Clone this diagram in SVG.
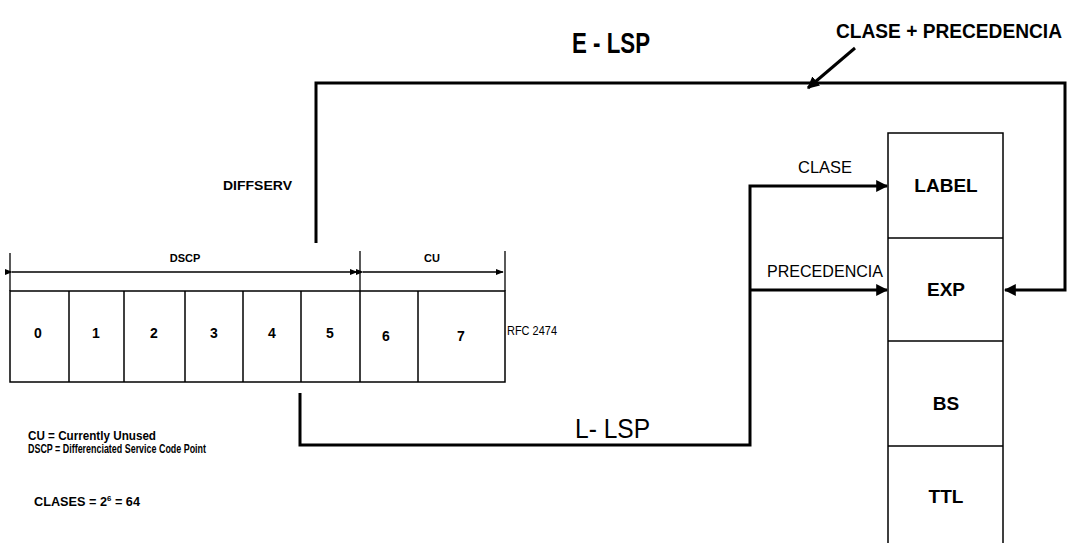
<svg xmlns="http://www.w3.org/2000/svg" width="1072" height="543" viewBox="0 0 1072 543">
<style>
text{font-family:"Liberation Sans",Arial,sans-serif;fill:#000}
.b{font-weight:bold}
.cell{fill:none;stroke:#000;stroke-width:1.5}
.ln{fill:none;stroke:#000;stroke-width:3}
.thin{fill:none;stroke:#000;stroke-width:1.3}
.mid{text-anchor:middle}
</style>
<defs>
<marker id="ah" viewBox="0 0 10 10" refX="9" refY="5" markerWidth="4" markerHeight="4" orient="auto" markerUnits="strokeWidth"><path d="M0,0L10,5L0,10z" fill="#000"/></marker>
<marker id="sm" viewBox="0 0 10 10" refX="9" refY="5" markerWidth="6" markerHeight="6" orient="auto" markerUnits="strokeWidth"><path d="M0,1L10,5L0,9z" fill="#000"/></marker>
</defs>
<g id="dscp-table">
<line class="thin" x1="10" y1="253" x2="10" y2="291"/>
<line class="thin" x1="360" y1="251" x2="360" y2="291"/>
<line class="thin" x1="505" y1="251" x2="505" y2="291"/>
<line class="thin" x1="12" y1="272" x2="357" y2="272" marker-start="url(#sm)" marker-end="url(#sm)"/>
<line class="thin" x1="363" y1="272" x2="503" y2="272" marker-start="url(#sm)" marker-end="url(#sm)"/>
<text x="185" y="262" class="mid b" font-size="11">DSCP</text>
<text x="432" y="262" class="mid b" font-size="11">CU</text>
<rect class="cell" x="10" y="291" width="495" height="91"/>
<line class="cell" x1="69" y1="291" x2="69" y2="382"/>
<line class="cell" x1="124" y1="291" x2="124" y2="382"/>
<line class="cell" x1="185" y1="291" x2="185" y2="382"/>
<line class="cell" x1="243" y1="291" x2="243" y2="382"/>
<line class="cell" x1="301" y1="291" x2="301" y2="382"/>
<line class="cell" x1="360" y1="291" x2="360" y2="382"/>
<line class="cell" x1="418" y1="291" x2="418" y2="382"/>
<g class="b" font-size="14">
<text x="38" y="338" class="mid">0</text>
<text x="96" y="338" class="mid">1</text>
<text x="154" y="338" class="mid">2</text>
<text x="214" y="338" class="mid">3</text>
<text x="272" y="338" class="mid">4</text>
<text x="330" y="338" class="mid">5</text>
<text x="386" y="341" class="mid">6</text>
<text x="461" y="341" class="mid">7</text>
</g>
<text x="507" y="335" font-size="13" textLength="50" lengthAdjust="spacingAndGlyphs">RFC 2474</text>
</g>
<g id="notes">
<text x="28" y="440" font-size="13" class="b" textLength="128" lengthAdjust="spacingAndGlyphs">CU = Currently Unused</text>
<text x="28" y="453" font-size="13" class="b" textLength="178" lengthAdjust="spacingAndGlyphs">DSCP = Differenciated Service Code Point</text>
<text x="34" y="506" font-size="13" class="b" textLength="106" lengthAdjust="spacingAndGlyphs">CLASES = 2<tspan font-size="8" dy="-5">6</tspan><tspan dy="5"> = 64</tspan></text>
<text x="223" y="190" font-size="13" class="b" textLength="69" lengthAdjust="spacingAndGlyphs">DIFFSERV</text>
</g>
<g id="mpls-stack">
<rect class="cell" x="888" y="133" width="115" height="420"/>
<line class="cell" x1="888" y1="238" x2="1003" y2="238"/>
<line class="cell" x1="888" y1="341" x2="1003" y2="341"/>
<line class="cell" x1="888" y1="446" x2="1003" y2="446"/>
<g class="b mid" font-size="19">
<text x="946" y="192">LABEL</text>
<text x="946" y="296">EXP</text>
<text x="946" y="410">BS</text>
<text x="946" y="503">TTL</text>
</g>
</g>
<g id="connectors">
<polyline class="ln" points="316,243 316,83 1065,83 1065,290 1005,290" marker-end="url(#ah)"/>
<polyline class="ln" points="300,393 300,445 750,445 750,186 887,186" marker-end="url(#ah)"/>
<line class="ln" x1="750" y1="290" x2="887" y2="290" marker-end="url(#ah)"/>
<line class="ln" x1="855" y1="48" x2="808" y2="88" marker-end="url(#ah)"/>
</g>
<g id="labels">
<text x="572" y="53" font-size="29" class="b" textLength="78" lengthAdjust="spacingAndGlyphs">E - LSP</text>
<text x="836" y="38" font-size="20" class="b" textLength="226" lengthAdjust="spacingAndGlyphs">CLASE + PRECEDENCIA</text>
<text x="575" y="438" font-size="28" textLength="75" lengthAdjust="spacingAndGlyphs">L- LSP</text>
<text x="798" y="173" font-size="17" textLength="54" lengthAdjust="spacingAndGlyphs">CLASE</text>
<text x="767" y="277" font-size="17" textLength="116" lengthAdjust="spacingAndGlyphs">PRECEDENCIA</text>
</g>
</svg>
